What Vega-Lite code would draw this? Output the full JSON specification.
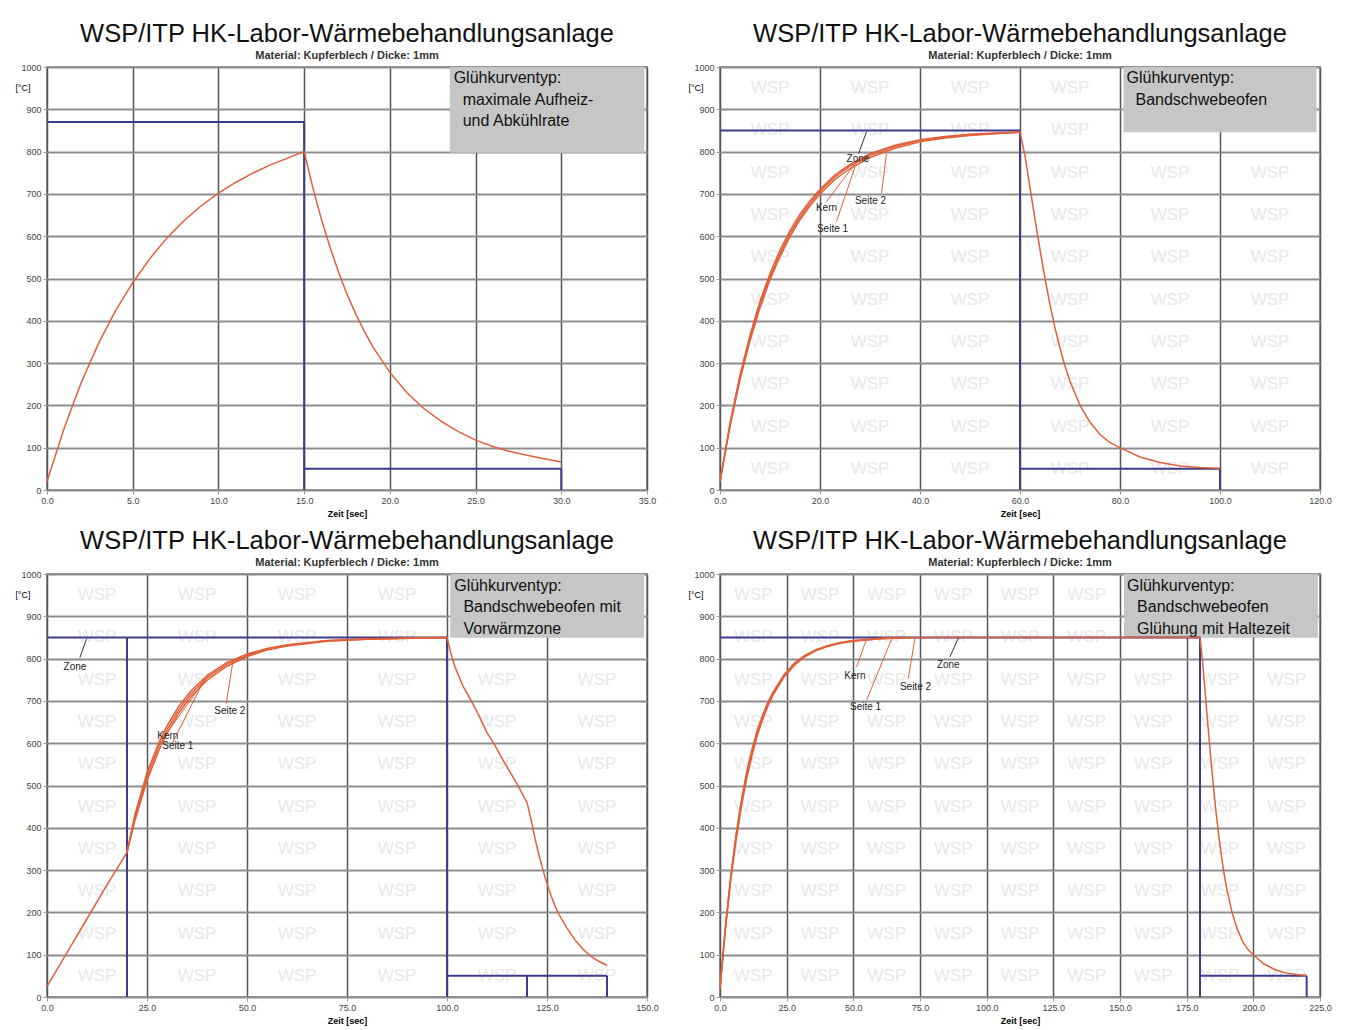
{
  "$schema": "https://vega.github.io/schema/vega-lite/v6.json",
  "background": "white",
  "padding": {"left": 14, "top": 20, "right": 5, "bottom": 5},
  "config": {
    "font": "Liberation Sans",
    "view": {"stroke": "#9a9a9a", "strokeWidth": 2},
    "title": {"fontSize": 25.5, "fontWeight": "normal", "color": "#111111", "subtitleFontSize": 11, "subtitleFontWeight": "bold", "subtitleColor": "#333333", "subtitlePadding": 3, "offset": 2, "anchor": "middle", "frame": "group"},
    "axis": {"labelFontSize": 9, "labelColor": "#444444", "tickColor": "#9a9a9a", "tickSize": 4, "domain": false, "labelFlush": false, "labelOverlap": false, "labelPadding": 2}
  },
  "datasets": {
    "curves": [
      {"p":1,"s":"K","x":0,"y":20},{"p":1,"s":"K","x":1,"y":146},{"p":1,"s":"K","x":2,"y":254},{"p":1,"s":"K","x":3,"y":346},{"p":1,"s":"K","x":4,"y":424},{"p":1,"s":"K","x":5,"y":490},{"p":1,"s":"K","x":6,"y":547},{"p":1,"s":"K","x":7,"y":596},{"p":1,"s":"K","x":8,"y":637},{"p":1,"s":"K","x":9,"y":672},{"p":1,"s":"K","x":10,"y":702},{"p":1,"s":"K","x":11,"y":727},{"p":1,"s":"K","x":12,"y":749},{"p":1,"s":"K","x":13,"y":768},{"p":1,"s":"K","x":14,"y":784},{"p":1,"s":"K","x":15,"y":800},
      {"p":1,"s":"K","x":15.5,"y":716},{"p":1,"s":"K","x":16,"y":641},{"p":1,"s":"K","x":16.5,"y":575},{"p":1,"s":"K","x":17,"y":516},{"p":1,"s":"K","x":17.5,"y":463},{"p":1,"s":"K","x":18,"y":417},{"p":1,"s":"K","x":18.5,"y":376},{"p":1,"s":"K","x":19,"y":339},{"p":1,"s":"K","x":20,"y":278},{"p":1,"s":"K","x":21,"y":230},{"p":1,"s":"K","x":22,"y":192},{"p":1,"s":"K","x":23,"y":162},{"p":1,"s":"K","x":24,"y":138},{"p":1,"s":"K","x":25,"y":118},{"p":1,"s":"K","x":26,"y":103},{"p":1,"s":"K","x":27,"y":91},{"p":1,"s":"K","x":28,"y":82},{"p":1,"s":"K","x":29,"y":74},{"p":1,"s":"K","x":30,"y":66},

      {"p":2,"s":"K","x":0,"y":20},{"p":2,"s":"K","x":2,"y":150},{"p":2,"s":"K","x":4,"y":261},{"p":2,"s":"K","x":6,"y":353},{"p":2,"s":"K","x":8,"y":431},{"p":2,"s":"K","x":10,"y":497},{"p":2,"s":"K","x":12,"y":552},{"p":2,"s":"K","x":14,"y":599},{"p":2,"s":"K","x":16,"y":639},{"p":2,"s":"K","x":18,"y":672},{"p":2,"s":"K","x":20,"y":700},{"p":2,"s":"K","x":23,"y":734},{"p":2,"s":"K","x":26,"y":760},{"p":2,"s":"K","x":30,"y":786},{"p":2,"s":"K","x":35,"y":808},{"p":2,"s":"K","x":40,"y":823},{"p":2,"s":"K","x":45,"y":832},{"p":2,"s":"K","x":50,"y":838},{"p":2,"s":"K","x":55,"y":842},{"p":2,"s":"K","x":60,"y":846},
      {"p":2,"s":"K","x":61,"y":790},{"p":2,"s":"K","x":62,"y":715},{"p":2,"s":"K","x":63,"y":640},{"p":2,"s":"K","x":64,"y":568},{"p":2,"s":"K","x":65,"y":500},{"p":2,"s":"K","x":66,"y":438},{"p":2,"s":"K","x":67,"y":383},{"p":2,"s":"K","x":68,"y":335},{"p":2,"s":"K","x":69,"y":293},{"p":2,"s":"K","x":70,"y":257},{"p":2,"s":"K","x":72,"y":200},{"p":2,"s":"K","x":74,"y":160},{"p":2,"s":"K","x":76,"y":131},{"p":2,"s":"K","x":78,"y":112},{"p":2,"s":"K","x":80,"y":100},{"p":2,"s":"K","x":84,"y":78},{"p":2,"s":"K","x":88,"y":65},{"p":2,"s":"K","x":92,"y":57},{"p":2,"s":"K","x":96,"y":53},{"p":2,"s":"K","x":100,"y":51},
      {"p":2,"s":"S1","x":0,"y":20},{"p":2,"s":"S1","x":2,"y":158},{"p":2,"s":"S1","x":4,"y":272},{"p":2,"s":"S1","x":6,"y":366},{"p":2,"s":"S1","x":8,"y":446},{"p":2,"s":"S1","x":10,"y":512},{"p":2,"s":"S1","x":12,"y":567},{"p":2,"s":"S1","x":14,"y":613},{"p":2,"s":"S1","x":16,"y":652},{"p":2,"s":"S1","x":18,"y":684},{"p":2,"s":"S1","x":20,"y":711},{"p":2,"s":"S1","x":23,"y":745},{"p":2,"s":"S1","x":26,"y":770},{"p":2,"s":"S1","x":30,"y":795},{"p":2,"s":"S1","x":35,"y":815},{"p":2,"s":"S1","x":40,"y":828},{"p":2,"s":"S1","x":45,"y":836},{"p":2,"s":"S1","x":50,"y":841},{"p":2,"s":"S1","x":55,"y":844},{"p":2,"s":"S1","x":60,"y":846},
      {"p":2,"s":"S2","x":0,"y":20},{"p":2,"s":"S2","x":2,"y":154},{"p":2,"s":"S2","x":4,"y":266},{"p":2,"s":"S2","x":6,"y":359},{"p":2,"s":"S2","x":8,"y":438},{"p":2,"s":"S2","x":10,"y":504},{"p":2,"s":"S2","x":12,"y":559},{"p":2,"s":"S2","x":14,"y":606},{"p":2,"s":"S2","x":16,"y":645},{"p":2,"s":"S2","x":18,"y":678},{"p":2,"s":"S2","x":20,"y":706},{"p":2,"s":"S2","x":23,"y":740},{"p":2,"s":"S2","x":26,"y":766},{"p":2,"s":"S2","x":30,"y":791},{"p":2,"s":"S2","x":35,"y":812},{"p":2,"s":"S2","x":40,"y":826},{"p":2,"s":"S2","x":45,"y":834},{"p":2,"s":"S2","x":50,"y":840},{"p":2,"s":"S2","x":55,"y":843},{"p":2,"s":"S2","x":60,"y":846},

      {"p":3,"s":"K","x":0,"y":25},{"p":3,"s":"K","x":5,"y":105},{"p":3,"s":"K","x":10,"y":185},{"p":3,"s":"K","x":15,"y":265},{"p":3,"s":"K","x":20,"y":342},{"p":3,"s":"K","x":22,"y":418},{"p":3,"s":"K","x":25,"y":511},{"p":3,"s":"K","x":28,"y":584},{"p":3,"s":"K","x":30,"y":623},{"p":3,"s":"K","x":33,"y":672},{"p":3,"s":"K","x":36,"y":710},{"p":3,"s":"K","x":40,"y":749},{"p":3,"s":"K","x":45,"y":782},{"p":3,"s":"K","x":50,"y":805},{"p":3,"s":"K","x":55,"y":820},{"p":3,"s":"K","x":60,"y":830},{"p":3,"s":"K","x":70,"y":841},{"p":3,"s":"K","x":80,"y":846},{"p":3,"s":"K","x":90,"y":848},{"p":3,"s":"K","x":100,"y":850},
      {"p":3,"s":"K","x":101,"y":811},{"p":3,"s":"K","x":102,"y":780},{"p":3,"s":"K","x":104,"y":735},{"p":3,"s":"K","x":106,"y":701},{"p":3,"s":"K","x":108,"y":665},{"p":3,"s":"K","x":110,"y":625},{"p":3,"s":"K","x":112,"y":595},{"p":3,"s":"K","x":114,"y":560},{"p":3,"s":"K","x":116,"y":528},{"p":3,"s":"K","x":118,"y":495},{"p":3,"s":"K","x":120,"y":460},{"p":3,"s":"K","x":121,"y":420},{"p":3,"s":"K","x":122,"y":375},{"p":3,"s":"K","x":123,"y":335},{"p":3,"s":"K","x":124,"y":300},{"p":3,"s":"K","x":125,"y":268},{"p":3,"s":"K","x":126,"y":240},{"p":3,"s":"K","x":127,"y":215},{"p":3,"s":"K","x":128,"y":195},{"p":3,"s":"K","x":130,"y":163},{"p":3,"s":"K","x":132,"y":135},{"p":3,"s":"K","x":134,"y":113},{"p":3,"s":"K","x":136,"y":96},{"p":3,"s":"K","x":138,"y":84},{"p":3,"s":"K","x":140,"y":75},
      {"p":3,"s":"S1","x":20,"y":342},{"p":3,"s":"S1","x":22,"y":432},{"p":3,"s":"S1","x":25,"y":530},{"p":3,"s":"S1","x":28,"y":603},{"p":3,"s":"S1","x":30,"y":641},{"p":3,"s":"S1","x":33,"y":688},{"p":3,"s":"S1","x":36,"y":724},{"p":3,"s":"S1","x":40,"y":760},{"p":3,"s":"S1","x":45,"y":791},{"p":3,"s":"S1","x":50,"y":811},{"p":3,"s":"S1","x":55,"y":824},{"p":3,"s":"S1","x":60,"y":833},{"p":3,"s":"S1","x":70,"y":843},{"p":3,"s":"S1","x":80,"y":847},{"p":3,"s":"S1","x":100,"y":850},
      {"p":3,"s":"S2","x":20,"y":342},{"p":3,"s":"S2","x":22,"y":425},{"p":3,"s":"S2","x":25,"y":520},{"p":3,"s":"S2","x":28,"y":594},{"p":3,"s":"S2","x":30,"y":632},{"p":3,"s":"S2","x":33,"y":680},{"p":3,"s":"S2","x":36,"y":717},{"p":3,"s":"S2","x":40,"y":755},{"p":3,"s":"S2","x":45,"y":787},{"p":3,"s":"S2","x":50,"y":808},{"p":3,"s":"S2","x":55,"y":822},{"p":3,"s":"S2","x":60,"y":831},{"p":3,"s":"S2","x":70,"y":842},{"p":3,"s":"S2","x":80,"y":846},{"p":3,"s":"S2","x":100,"y":850},

      {"p":4,"s":"K","x":0,"y":20},{"p":4,"s":"K","x":2,"y":158},{"p":4,"s":"K","x":4,"y":273},{"p":4,"s":"K","x":6,"y":369},{"p":4,"s":"K","x":8,"y":449},{"p":4,"s":"K","x":10,"y":516},{"p":4,"s":"K","x":12,"y":571},{"p":4,"s":"K","x":14,"y":618},{"p":4,"s":"K","x":16,"y":656},{"p":4,"s":"K","x":18,"y":688},{"p":4,"s":"K","x":20,"y":715},{"p":4,"s":"K","x":24,"y":756},{"p":4,"s":"K","x":28,"y":785},{"p":4,"s":"K","x":32,"y":805},{"p":4,"s":"K","x":36,"y":819},{"p":4,"s":"K","x":40,"y":828},{"p":4,"s":"K","x":45,"y":836},{"p":4,"s":"K","x":50,"y":841},{"p":4,"s":"K","x":55,"y":844},{"p":4,"s":"K","x":60,"y":847},{"p":4,"s":"K","x":70,"y":849},{"p":4,"s":"K","x":80,"y":850},{"p":4,"s":"K","x":180,"y":850},
      {"p":4,"s":"K","x":181,"y":790},{"p":4,"s":"K","x":182,"y":715},{"p":4,"s":"K","x":183,"y":640},{"p":4,"s":"K","x":184,"y":568},{"p":4,"s":"K","x":185,"y":500},{"p":4,"s":"K","x":186,"y":438},{"p":4,"s":"K","x":187,"y":383},{"p":4,"s":"K","x":188,"y":335},{"p":4,"s":"K","x":189,"y":293},{"p":4,"s":"K","x":190,"y":257},{"p":4,"s":"K","x":192,"y":200},{"p":4,"s":"K","x":194,"y":160},{"p":4,"s":"K","x":196,"y":131},{"p":4,"s":"K","x":198,"y":112},{"p":4,"s":"K","x":200,"y":100},{"p":4,"s":"K","x":204,"y":78},{"p":4,"s":"K","x":208,"y":65},{"p":4,"s":"K","x":212,"y":57},{"p":4,"s":"K","x":216,"y":53},{"p":4,"s":"K","x":220,"y":51},
      {"p":4,"s":"S1","x":0,"y":20},{"p":4,"s":"S1","x":2,"y":165},{"p":4,"s":"S1","x":4,"y":285},{"p":4,"s":"S1","x":6,"y":384},{"p":4,"s":"S1","x":8,"y":465},{"p":4,"s":"S1","x":10,"y":532},{"p":4,"s":"S1","x":12,"y":586},{"p":4,"s":"S1","x":14,"y":631},{"p":4,"s":"S1","x":16,"y":667},{"p":4,"s":"S1","x":18,"y":697},{"p":4,"s":"S1","x":20,"y":722},{"p":4,"s":"S1","x":24,"y":762},{"p":4,"s":"S1","x":28,"y":790},{"p":4,"s":"S1","x":32,"y":808},{"p":4,"s":"S1","x":36,"y":821},{"p":4,"s":"S1","x":40,"y":830},{"p":4,"s":"S1","x":45,"y":838},{"p":4,"s":"S1","x":50,"y":843},{"p":4,"s":"S1","x":60,"y":848},{"p":4,"s":"S1","x":70,"y":850},
      {"p":4,"s":"S2","x":0,"y":20},{"p":4,"s":"S2","x":2,"y":162},{"p":4,"s":"S2","x":4,"y":279},{"p":4,"s":"S2","x":6,"y":377},{"p":4,"s":"S2","x":8,"y":457},{"p":4,"s":"S2","x":10,"y":524},{"p":4,"s":"S2","x":12,"y":579},{"p":4,"s":"S2","x":14,"y":625},{"p":4,"s":"S2","x":16,"y":662},{"p":4,"s":"S2","x":18,"y":693},{"p":4,"s":"S2","x":20,"y":719},{"p":4,"s":"S2","x":24,"y":759},{"p":4,"s":"S2","x":28,"y":788},{"p":4,"s":"S2","x":32,"y":807},{"p":4,"s":"S2","x":36,"y":820},{"p":4,"s":"S2","x":40,"y":829},{"p":4,"s":"S2","x":45,"y":837},{"p":4,"s":"S2","x":50,"y":842},{"p":4,"s":"S2","x":60,"y":847},{"p":4,"s":"S2","x":70,"y":850}
    ],
    "zone": [
      {"p":1,"x":0,"y":870,"x2":15,"y2":870},{"p":1,"x":15,"y":870,"x2":15,"y2":0},{"p":1,"x":15,"y":50,"x2":30,"y2":50},{"p":1,"x":30,"y":50,"x2":30,"y2":0},
      {"p":2,"x":0,"y":850,"x2":60,"y2":850},{"p":2,"x":60,"y":850,"x2":60,"y2":0},{"p":2,"x":60,"y":50,"x2":100,"y2":50},{"p":2,"x":100,"y":50,"x2":100,"y2":0},
      {"p":3,"x":0,"y":850,"x2":100,"y2":850},{"p":3,"x":20,"y":850,"x2":20,"y2":0},{"p":3,"x":100,"y":850,"x2":100,"y2":0},{"p":3,"x":100,"y":50,"x2":140,"y2":50},{"p":3,"x":120,"y":50,"x2":120,"y2":0},{"p":3,"x":140,"y":50,"x2":140,"y2":0},
      {"p":4,"x":0,"y":850,"x2":180,"y2":850},{"p":4,"x":180,"y":850,"x2":180,"y2":0},{"p":4,"x":180,"y":50,"x2":220,"y2":50},{"p":4,"x":220,"y":50,"x2":220,"y2":0}
    ],
    "boxes": [
      {"p":1,"x":23.5,"x2":34.85,"y":797,"y2":1000},
      {"p":2,"x":80.7,"x2":119.3,"y":846,"y2":1000},
      {"p":3,"x":100.8,"x2":149.3,"y":849,"y2":1000},
      {"p":4,"x":151.5,"x2":224.2,"y":849,"y2":1000}
    ],
    "boxtext": [
      {"p":1,"x":23.72,"y":974,"text":"Glühkurventyp:"},{"p":1,"x":24.25,"y":922,"text":"maximale Aufheiz-"},{"p":1,"x":24.25,"y":872,"text":"und Abkühlrate"},
      {"p":2,"x":81.3,"y":974,"text":"Glühkurventyp:"},{"p":2,"x":83.1,"y":922,"text":"Bandschwebeofen"},
      {"p":3,"x":101.8,"y":972,"text":"Glühkurventyp:"},{"p":3,"x":104.1,"y":922,"text":"Bandschwebeofen mit"},{"p":3,"x":104.1,"y":870,"text":"Vorwärmzone"},
      {"p":4,"x":152.6,"y":972,"text":"Glühkurventyp:"},{"p":4,"x":156.4,"y":922,"text":"Bandschwebeofen"},{"p":4,"x":156.4,"y":870,"text":"Glühung mit Haltezeit"}
    ],
    "leaders": [
      {"p":2,"c":"z","x":29.3,"y":847,"x2":27.7,"y2":795},{"p":2,"c":"r","x":21.3,"y":682,"x2":26.8,"y2":768},{"p":2,"c":"r","x":23.3,"y":635,"x2":27.2,"y2":771},{"p":2,"c":"r","x":32.3,"y":702,"x2":33.3,"y2":795},
      {"p":3,"c":"z","x":9.9,"y":847,"x2":8.2,"y2":802},{"p":3,"c":"r","x":44.8,"y":693,"x2":46.5,"y2":795},{"p":3,"c":"r","x":28.2,"y":601,"x2":39.4,"y2":748},{"p":3,"c":"r","x":31.4,"y":601,"x2":39.4,"y2":752},
      {"p":4,"c":"z","x":86.2,"y":804,"x2":89.4,"y2":849},{"p":4,"c":"r","x":51.2,"y":780,"x2":55,"y2":847},{"p":4,"c":"r","x":55,"y":702,"x2":64.4,"y2":847},{"p":4,"c":"r","x":70.6,"y":753,"x2":73.1,"y2":847}
    ],
    "labels": [
      {"p":2,"x":27.6,"y":783,"text":"Zone"},{"p":2,"x":21.3,"y":667,"text":"Kern"},{"p":2,"x":22.5,"y":618,"text":"Seite 1"},{"p":2,"x":30.1,"y":684,"text":"Seite 2"},
      {"p":3,"x":7.0,"y":781,"text":"Zone"},{"p":3,"x":30.2,"y":618,"text":"Kern"},{"p":3,"x":32.7,"y":594,"text":"Seite 1"},{"p":3,"x":45.7,"y":677,"text":"Seite 2"},
      {"p":4,"x":50.6,"y":758,"text":"Kern"},{"p":4,"x":54.6,"y":686,"text":"Seite 1"},{"p":4,"x":73.3,"y":733,"text":"Seite 2"},{"p":4,"x":85.6,"y":784,"text":"Zone"}
    ],
    "wm": [
      {"p":2,"x":10,"y":[50,150,250,350,450,550,650,750,850,950]},{"p":2,"x":30,"y":[50,150,250,350,450,550,650,750,850,950]},{"p":2,"x":50,"y":[50,150,250,350,450,550,650,750,850,950]},{"p":2,"x":70,"y":[50,150,250,350,450,550,650,750,850,950]},{"p":2,"x":90,"y":[50,150,250,350,450,550,650,750]},{"p":2,"x":110,"y":[50,150,250,350,450,550,650,750]},
      {"p":3,"x":12.5,"y":[50,150,250,350,450,550,650,750,850,950]},{"p":3,"x":37.5,"y":[50,150,250,350,450,550,650,750,850,950]},{"p":3,"x":62.5,"y":[50,150,250,350,450,550,650,750,850,950]},{"p":3,"x":87.5,"y":[50,150,250,350,450,550,650,750,850,950]},{"p":3,"x":112.5,"y":[50,150,250,350,450,550,650,750]},{"p":3,"x":137.5,"y":[50,150,250,350,450,550,650,750]},
      {"p":4,"x":12.5,"y":[50,150,250,350,450,550,650,750,850,950]},{"p":4,"x":37.5,"y":[50,150,250,350,450,550,650,750,850,950]},{"p":4,"x":62.5,"y":[50,150,250,350,450,550,650,750,850,950]},{"p":4,"x":87.5,"y":[50,150,250,350,450,550,650,750,850,950]},{"p":4,"x":112.5,"y":[50,150,250,350,450,550,650,750,850,950]},{"p":4,"x":137.5,"y":[50,150,250,350,450,550,650,750,850,950]},{"p":4,"x":162.5,"y":[50,150,250,350,450,550,650,750]},{"p":4,"x":187.5,"y":[50,150,250,350,450,550,650,750]},{"p":4,"x":212.5,"y":[50,150,250,350,450,550,650,750]}
    ]
  },
  "spacing": 8,
  "vconcat": [
    {
      "bounds": "flush",
      "spacing": 73,
      "hconcat": [
        {
          "width": 600, "height": 423,
          "title": {"text": "WSP/ITP HK-Labor-Wärmebehandlungsanlage", "subtitle": "Material: Kupferblech / Dicke: 1mm"},
          "encoding": {
            "x": {"field": "x", "type": "quantitative", "scale": {"domain": [0, 35], "nice": false, "zero": false}, "axis": {"values": [0,5,10,15,20,25,30,35], "format": ".1f", "title": "Zeit [sec]", "titleFontSize": 9, "titleFontWeight": "bold", "titlePadding": 4, "gridColor": "#555555", "gridWidth": 1.5}},
            "y": {"field": "y", "type": "quantitative", "scale": {"domain": [0, 1000], "nice": false}, "axis": {"values": [0,100,200,300,400,500,600,700,800,900,1000], "format": "d", "title": "[°C]", "titleAngle": 0, "titleAlign": "left", "titleBaseline": "middle", "titleX": -32, "titleY": 20, "titleFontSize": 9, "titleFontWeight": "normal", "gridColor": "#8d8d8d", "gridWidth": 2}}
          },
          "layer": [
            {"data": {"name": "boxes"}, "transform": [{"filter": "datum.p == 1"}], "mark": {"type": "rect", "fill": "#c6c6c6"}, "encoding": {"x2": {"field": "x2"}, "y2": {"field": "y2"}}},
            {"data": {"name": "boxtext"}, "transform": [{"filter": "datum.p == 1"}], "mark": {"type": "text", "align": "left", "baseline": "middle", "fontSize": 16, "color": "#111111"}, "encoding": {"text": {"field": "text"}}},
            {"data": {"name": "zone"}, "transform": [{"filter": "datum.p == 1"}], "mark": {"type": "rule", "color": "#3c3c8c", "strokeWidth": 2}, "encoding": {"x2": {"field": "x2"}, "y2": {"field": "y2"}}},
            {"data": {"name": "curves"}, "transform": [{"filter": "datum.p == 1"}], "mark": {"type": "line", "color": "#e0603a", "strokeWidth": 1.5}, "encoding": {"detail": {"field": "s"}}}
          ]
        },
        {
          "width": 600, "height": 423,
          "title": {"text": "WSP/ITP HK-Labor-Wärmebehandlungsanlage", "subtitle": "Material: Kupferblech / Dicke: 1mm"},
          "encoding": {
            "x": {"field": "x", "type": "quantitative", "scale": {"domain": [0, 120], "nice": false, "zero": false}, "axis": {"values": [0,20,40,60,80,100,120], "format": ".1f", "title": "Zeit [sec]", "titleFontSize": 9, "titleFontWeight": "bold", "titlePadding": 4, "gridColor": "#555555", "gridWidth": 1.5}},
            "y": {"field": "y", "type": "quantitative", "scale": {"domain": [0, 1000], "nice": false}, "axis": {"values": [0,100,200,300,400,500,600,700,800,900,1000], "format": "d", "title": "[°C]", "titleAngle": 0, "titleAlign": "left", "titleBaseline": "middle", "titleX": -32, "titleY": 20, "titleFontSize": 9, "titleFontWeight": "normal", "gridColor": "#8d8d8d", "gridWidth": 2}}
          },
          "layer": [
            {"data": {"name": "wm"}, "transform": [{"filter": "datum.p == 2"}, {"flatten": ["y"]}], "mark": {"type": "text", "fontSize": 17, "color": "#e8e8e8", "align": "center", "baseline": "middle"}, "encoding": {"text": {"value": "WSP"}}},
            {"data": {"name": "boxes"}, "transform": [{"filter": "datum.p == 2"}], "mark": {"type": "rect", "fill": "#c6c6c6"}, "encoding": {"x2": {"field": "x2"}, "y2": {"field": "y2"}}},
            {"data": {"name": "boxtext"}, "transform": [{"filter": "datum.p == 2"}], "mark": {"type": "text", "align": "left", "baseline": "middle", "fontSize": 16, "color": "#111111"}, "encoding": {"text": {"field": "text"}}},
            {"data": {"name": "zone"}, "transform": [{"filter": "datum.p == 2"}], "mark": {"type": "rule", "color": "#3c3c8c", "strokeWidth": 2}, "encoding": {"x2": {"field": "x2"}, "y2": {"field": "y2"}}},
            {"data": {"name": "curves"}, "transform": [{"filter": "datum.p == 2"}], "mark": {"type": "line", "color": "#e0603a", "strokeWidth": 1.5}, "encoding": {"detail": {"field": "s"}}},
            {"data": {"name": "leaders"}, "transform": [{"filter": "datum.p == 2"}], "mark": {"type": "rule", "strokeWidth": 1}, "encoding": {"x2": {"field": "x2"}, "y2": {"field": "y2"}, "color": {"field": "c", "type": "nominal", "scale": {"domain": ["z", "r"], "range": ["#333355", "#e0603a"]}, "legend": null}}},
            {"data": {"name": "labels"}, "transform": [{"filter": "datum.p == 2"}], "mark": {"type": "text", "fontSize": 10, "color": "#222222", "align": "center", "baseline": "middle"}, "encoding": {"text": {"field": "text"}}}
          ]
        }
      ]
    },
    {
      "bounds": "flush",
      "spacing": 73,
      "hconcat": [
        {
          "width": 600, "height": 423,
          "title": {"text": "WSP/ITP HK-Labor-Wärmebehandlungsanlage", "subtitle": "Material: Kupferblech / Dicke: 1mm"},
          "encoding": {
            "x": {"field": "x", "type": "quantitative", "scale": {"domain": [0, 150], "nice": false, "zero": false}, "axis": {"values": [0,25,50,75,100,125,150], "format": ".1f", "title": "Zeit [sec]", "titleFontSize": 9, "titleFontWeight": "bold", "titlePadding": 4, "gridColor": "#555555", "gridWidth": 1.5}},
            "y": {"field": "y", "type": "quantitative", "scale": {"domain": [0, 1000], "nice": false}, "axis": {"values": [0,100,200,300,400,500,600,700,800,900,1000], "format": "d", "title": "[°C]", "titleAngle": 0, "titleAlign": "left", "titleBaseline": "middle", "titleX": -32, "titleY": 20, "titleFontSize": 9, "titleFontWeight": "normal", "gridColor": "#8d8d8d", "gridWidth": 2}}
          },
          "layer": [
            {"data": {"name": "wm"}, "transform": [{"filter": "datum.p == 3"}, {"flatten": ["y"]}], "mark": {"type": "text", "fontSize": 17, "color": "#e8e8e8", "align": "center", "baseline": "middle"}, "encoding": {"text": {"value": "WSP"}}},
            {"data": {"name": "boxes"}, "transform": [{"filter": "datum.p == 3"}], "mark": {"type": "rect", "fill": "#c6c6c6"}, "encoding": {"x2": {"field": "x2"}, "y2": {"field": "y2"}}},
            {"data": {"name": "boxtext"}, "transform": [{"filter": "datum.p == 3"}], "mark": {"type": "text", "align": "left", "baseline": "middle", "fontSize": 16, "color": "#111111"}, "encoding": {"text": {"field": "text"}}},
            {"data": {"name": "zone"}, "transform": [{"filter": "datum.p == 3"}], "mark": {"type": "rule", "color": "#3c3c8c", "strokeWidth": 2}, "encoding": {"x2": {"field": "x2"}, "y2": {"field": "y2"}}},
            {"data": {"name": "curves"}, "transform": [{"filter": "datum.p == 3"}], "mark": {"type": "line", "color": "#e0603a", "strokeWidth": 1.5}, "encoding": {"detail": {"field": "s"}}},
            {"data": {"name": "leaders"}, "transform": [{"filter": "datum.p == 3"}], "mark": {"type": "rule", "strokeWidth": 1}, "encoding": {"x2": {"field": "x2"}, "y2": {"field": "y2"}, "color": {"field": "c", "type": "nominal", "scale": {"domain": ["z", "r"], "range": ["#333355", "#e0603a"]}, "legend": null}}},
            {"data": {"name": "labels"}, "transform": [{"filter": "datum.p == 3"}], "mark": {"type": "text", "fontSize": 10, "color": "#222222", "align": "center", "baseline": "middle"}, "encoding": {"text": {"field": "text"}}}
          ]
        },
        {
          "width": 600, "height": 423,
          "title": {"text": "WSP/ITP HK-Labor-Wärmebehandlungsanlage", "subtitle": "Material: Kupferblech / Dicke: 1mm"},
          "encoding": {
            "x": {"field": "x", "type": "quantitative", "scale": {"domain": [0, 225], "nice": false, "zero": false}, "axis": {"values": [0,25,50,75,100,125,150,175,200,225], "format": ".1f", "title": "Zeit [sec]", "titleFontSize": 9, "titleFontWeight": "bold", "titlePadding": 4, "gridColor": "#555555", "gridWidth": 1.5}},
            "y": {"field": "y", "type": "quantitative", "scale": {"domain": [0, 1000], "nice": false}, "axis": {"values": [0,100,200,300,400,500,600,700,800,900,1000], "format": "d", "title": "[°C]", "titleAngle": 0, "titleAlign": "left", "titleBaseline": "middle", "titleX": -32, "titleY": 20, "titleFontSize": 9, "titleFontWeight": "normal", "gridColor": "#8d8d8d", "gridWidth": 2}}
          },
          "layer": [
            {"data": {"name": "wm"}, "transform": [{"filter": "datum.p == 4"}, {"flatten": ["y"]}], "mark": {"type": "text", "fontSize": 17, "color": "#e8e8e8", "align": "center", "baseline": "middle"}, "encoding": {"text": {"value": "WSP"}}},
            {"data": {"name": "boxes"}, "transform": [{"filter": "datum.p == 4"}], "mark": {"type": "rect", "fill": "#c6c6c6"}, "encoding": {"x2": {"field": "x2"}, "y2": {"field": "y2"}}},
            {"data": {"name": "boxtext"}, "transform": [{"filter": "datum.p == 4"}], "mark": {"type": "text", "align": "left", "baseline": "middle", "fontSize": 16, "color": "#111111"}, "encoding": {"text": {"field": "text"}}},
            {"data": {"name": "zone"}, "transform": [{"filter": "datum.p == 4"}], "mark": {"type": "rule", "color": "#3c3c8c", "strokeWidth": 2}, "encoding": {"x2": {"field": "x2"}, "y2": {"field": "y2"}}},
            {"data": {"name": "curves"}, "transform": [{"filter": "datum.p == 4"}], "mark": {"type": "line", "color": "#e0603a", "strokeWidth": 1.5}, "encoding": {"detail": {"field": "s"}}},
            {"data": {"name": "leaders"}, "transform": [{"filter": "datum.p == 4"}], "mark": {"type": "rule", "strokeWidth": 1}, "encoding": {"x2": {"field": "x2"}, "y2": {"field": "y2"}, "color": {"field": "c", "type": "nominal", "scale": {"domain": ["z", "r"], "range": ["#333355", "#e0603a"]}, "legend": null}}},
            {"data": {"name": "labels"}, "transform": [{"filter": "datum.p == 4"}], "mark": {"type": "text", "fontSize": 10, "color": "#222222", "align": "center", "baseline": "middle"}, "encoding": {"text": {"field": "text"}}}
          ]
        }
      ]
    }
  ]
}
